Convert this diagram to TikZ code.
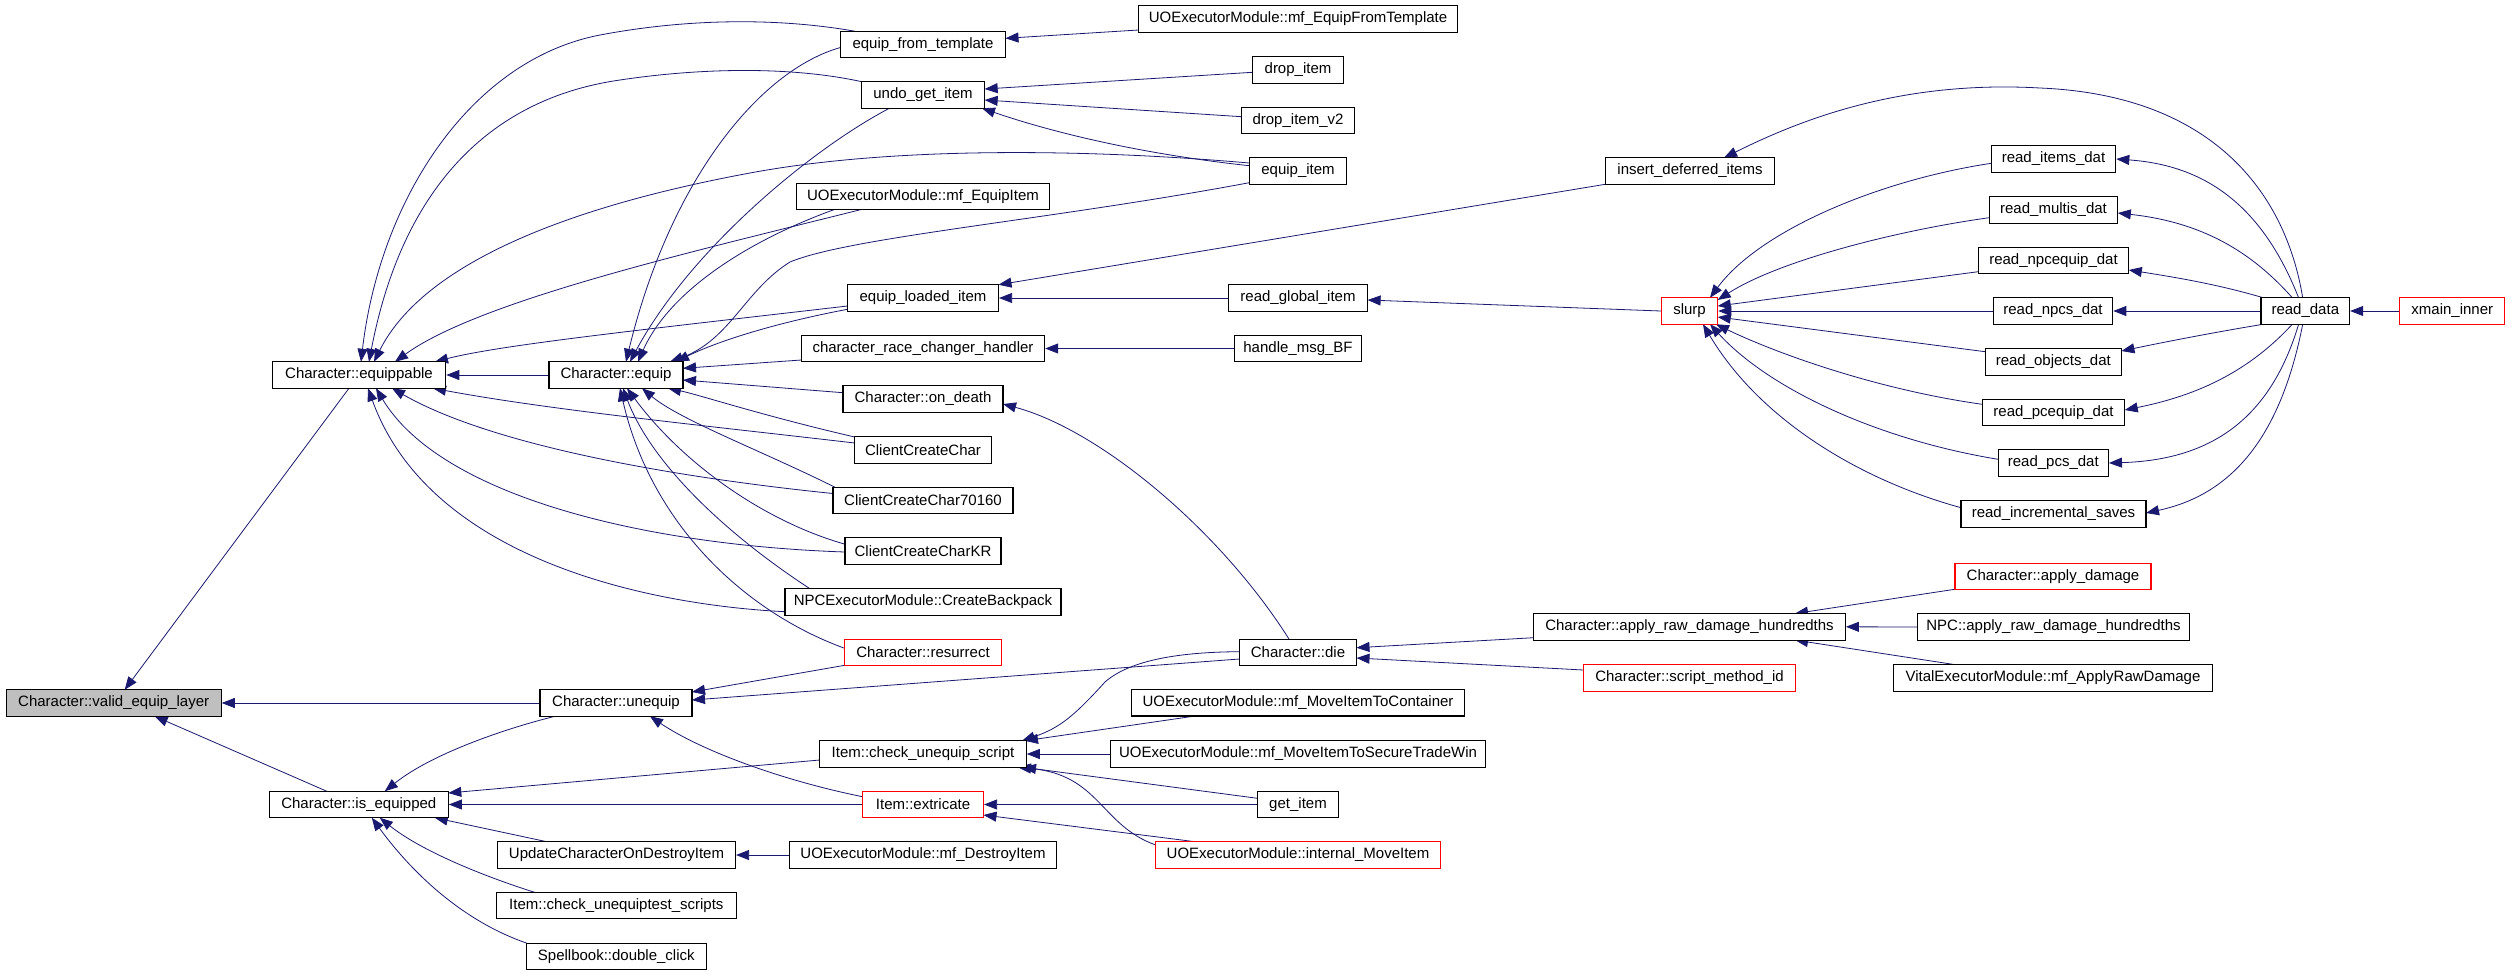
\documentclass[tikz,border=0pt]{standalone}
\usepackage{fontspec}
\setmainfont{Liberation Sans}
\usetikzlibrary{arrows.meta,calc}
\definecolor{edgeblue}{RGB}{25,25,112}
\definecolor{grayfill}{RGB}{191,191,191}
\pgfdeclarelayer{edges}
\pgfsetlayers{edges,main}
\tikzset{
  box/.style={draw=black, line width=1.1pt, minimum height=26.5pt, inner sep=0pt,
    font=\fontsize{15}{18}\selectfont, text=black, fill=white},
  redbox/.style={box, draw=red},
  call/.style={draw=edgeblue, line width=0.8pt, -{Triangle[length=13pt,width=10pt]}},
}
\begin{document}
\begin{tikzpicture}[x=1pt,y=-1pt]
\useasboundingbox (0,0) rectangle (2512,975);

% ---------- nodes ----------
\node[box, fill=grayfill, minimum width=215] (vel) at (113.7,703) {Character::valid\_equip\_layer};
\node[box, minimum width=173.5] (equippable) at (359,375) {Character::equippable};
\node[box, minimum width=134] (equip) at (616,375) {Character::equip};
\node[box, minimum width=152] (unequip) at (616,703) {Character::unequip};
\node[box, minimum width=179] (isequipped) at (358.8,804.5) {Character::is\_equipped};
\node[box, minimum width=238] (updchar) at (616.5,855) {UpdateCharacterOnDestroyItem};
\node[box, minimum width=240] (chkuts) at (616.3,905.6) {Item::check\_unequiptest\_scripts};
\node[box, minimum width=180] (spell) at (616.3,956.3) {Spellbook::double\_click};

\node[box, minimum width=165] (eft) at (923,44.5) {equip\_from\_template};
\node[box, minimum width=123.3] (ugi) at (923,95) {undo\_get\_item};
\node[box, minimum width=253] (mfei) at (923,196.3) {UOExecutorModule::mf\_EquipItem};
\node[box, minimum width=151] (eli) at (923,298) {equip\_loaded\_item};
\node[box, minimum width=243.3] (crch) at (923,348.5) {character\_race\_changer\_handler};
\node[box, minimum width=160] (ondeath) at (923,399) {Character::on\_death};
\node[box, minimum width=136.7] (ccc) at (923,450) {ClientCreateChar};
\node[box, minimum width=180] (ccc7) at (923,500.5) {ClientCreateChar70160};
\node[box, minimum width=156] (ccckr) at (923,551) {ClientCreateCharKR};
\node[box, minimum width=276] (cbp) at (923,602) {NPCExecutorModule::CreateBackpack};
\node[redbox, minimum width=156.7] (resurrect) at (923,652.3) {Character::resurrect};
\node[box, minimum width=206.5] (cus) at (923,754) {Item::check\_unequip\_script};
\node[redbox, minimum width=121] (extricate) at (923,804.5) {Item::extricate};
\node[box, minimum width=267.7] (mfdi) at (923,855) {UOExecutorModule::mf\_DestroyItem};

\node[box, minimum width=319] (mfeft) at (1298,19) {UOExecutorModule::mf\_EquipFromTemplate};
\node[box, minimum width=91] (dropitem) at (1298,70) {drop\_item};
\node[box, minimum width=113] (dropitemv2) at (1298,120.3) {drop\_item\_v2};
\node[box, minimum width=97.5] (equipitem) at (1298,171) {equip\_item};
\node[box, minimum width=139.2] (rgi) at (1298,298) {read\_global\_item};
\node[box, minimum width=127.7] (hmbf) at (1298,348.5) {handle\_msg\_BF};
\node[box, minimum width=117] (die) at (1298,652.3) {Character::die};
\node[box, minimum width=332.3] (mfmic) at (1298,702.7) {UOExecutorModule::mf\_MoveItemToContainer};
\node[box, minimum width=375] (mfmist) at (1298,754) {UOExecutorModule::mf\_MoveItemToSecureTradeWin};
\node[box, minimum width=81] (getitem) at (1298,804.5) {get\_item};
\node[redbox, minimum width=284.5] (imi) at (1298,855) {UOExecutorModule::internal\_MoveItem};

\node[box, minimum width=169] (idi) at (1690,171) {insert\_deferred\_items};
\node[redbox, minimum width=56.4] (slurp) at (1689.5,311) {slurp};
\node[box, minimum width=311.8] (ard) at (1689.5,626.8) {Character::apply\_raw\_damage\_hundredths};
\node[redbox, minimum width=212] (smi) at (1689.5,678) {Character::script\_method\_id};

\node[box, minimum width=124.5] (rid) at (2053.5,159) {read\_items\_dat};
\node[box, minimum width=128.6] (rmd) at (2053.5,210) {read\_multis\_dat};
\node[box, minimum width=150.6] (rned) at (2053.5,260.5) {read\_npcequip\_dat};
\node[box, minimum width=119.5] (rnd) at (2053,311) {read\_npcs\_dat};
\node[box, minimum width=136.3] (rod) at (2053.3,362) {read\_objects\_dat};
\node[box, minimum width=142.5] (rped) at (2053.5,412.3) {read\_pcequip\_dat};
\node[box, minimum width=110.2] (rpd) at (2053.3,463) {read\_pcs\_dat};
\node[box, minimum width=185] (ris) at (2053.5,514) {read\_incremental\_saves};
\node[redbox, minimum width=196] (applydmg) at (2053,576.5) {Character::apply\_damage};
\node[box, minimum width=272.3] (npcard) at (2053.5,627) {NPC::apply\_raw\_damage\_hundredths};
\node[box, minimum width=318.7] (vemard) at (2053,678) {VitalExecutorModule::mf\_ApplyRawDamage};

\node[box, minimum width=88.6] (readdata) at (2305.3,311) {read\_data};
\node[redbox, minimum width=105] (xmain) at (2452.3,311) {xmain\_inner};

\begin{pgfonlayer}{edges}
\fill[white] (0,0) rectangle (2512,975);
% into valid_equip_layer
\draw[call] ($(equippable)+(-10,13.25)$) -- ($(vel)+(11,-13.25)$);
\draw[call] (unequip.west) -- (vel.east);
\draw[call] ($(isequipped)+(-32,-13.25)$) -- ($(vel)+(41,13.25)$);

% into equippable
\draw[call] (equip.west) -- (equippable.east);
\draw[call] ($(eft)+(-68,-13.25)$) .. controls (780,18) and (690,18) .. (600,35) .. controls (470,60) and (380,200) .. ($(equippable)+(2,-13.25)$);
\draw[call] ($(ugi)+(-61,-13.25)$) .. controls (790,66) and (700,68) .. (620,80) .. controls (480,100) and (400,200) .. ($(equippable)+(10,-13.25)$);
\draw[call] ($(equipitem)+(-48.75,-8)$) .. controls (1100,150) and (900,145) .. (750,173) .. controls (550,210) and (420,270) .. ($(equippable)+(15,-13.25)$);
\draw[call] ($(mfei)+(-62,13.25)$) .. controls (700,250) and (480,300) .. ($(equippable)+(36,-13.25)$);
\draw[call] ($(eli)+(-75.5,8)$) .. controls (640,330) and (500,345) .. ($(equippable)+(76,-13.25)$);
\draw[call] ($(ccc)+(-68.35,-7)$) .. controls (700,425) and (550,410) .. ($(equippable)+(74,13.25)$);
\draw[call] ($(ccc7)+(-90,-7)$) .. controls (700,480) and (500,450) .. ($(equippable)+(33,13.25)$);
\draw[call] ($(ccckr)+(-78,1)$) .. controls (640,545) and (440,495) .. ($(equippable)+(17,13.25)$);
\draw[call] ($(cbp)+(-138,9.7)$) .. controls (650,605) and (430,560) .. ($(equippable)+(9,13.25)$);

% into equip
\draw[call] ($(eft)+(-82.5,3)$) .. controls (760,70) and (670,180) .. ($(equip)+(10,-13.25)$);
\draw[call] ($(ugi)+(-33.6,13.25)$) .. controls (810,150) and (690,250) .. ($(equip)+(14,-13.25)$);
\draw[call] ($(mfei)+(-88.7,13.25)$) .. controls (750,240) and (670,290) .. ($(equip)+(22,-13.25)$);
\draw[call] ($(equipitem)+(-48.75,11.7)$) .. controls (1050,220) and (850,237) .. (790,262) .. controls (745,290) and (730,340) .. ($(equip)+(54,-13.25)$);
\draw[call] ($(eli)+(-75.5,11.3)$) .. controls (780,322) and (720,340) .. ($(equip)+(60,-13.25)$);
\draw[call] ($(crch)+(-121.65,11.5)$) -- ($(equip)+(67,-6.7)$);
\draw[call] ($(ondeath)+(-80,-6.3)$) -- ($(equip)+(67,5)$);
\draw[call] ($(ccc)+(-68.35,-13)$) .. controls (760,415) and (700,395) .. ($(equip)+(52,13.25)$);
\draw[call] ($(ccc7)+(-88,-13.25)$) .. controls (760,450) and (680,420) .. ($(equip)+(26,13.25)$);
\draw[call] ($(ccckr)+(-77.7,-6.7)$) .. controls (760,520) and (680,460) .. ($(equip)+(11,13.25)$);
\draw[call] ($(cbp)+(-113,-13.25)$) .. controls (720,530) and (650,460) .. ($(equip)+(7,13.25)$);
\draw[call] ($(resurrect)+(-78.35,-4)$) .. controls (740,610) and (650,520) .. ($(equip)+(4,13.25)$);

% column 3 inputs
\draw[call] ($(mfeft)+(-159.5,11)$) -- ($(eft)+(82.5,-6.2)$);
\draw[call] ($(dropitem)+(-45.5,2.3)$) -- ($(ugi)+(61.65,-6)$);
\draw[call] ($(dropitemv2)+(-56.5,-3.6)$) -- ($(ugi)+(61.65,5)$);
\draw[call] ($(equipitem)+(-48.75,-5.3)$) .. controls (1150,155) and (1060,135) .. ($(ugi)+(59,13.25)$);
\draw[call] ($(idi)+(-84.5,13.25)$) -- ($(eli)+(75.5,-13.25)$);
\draw[call] (rgi.west) -- (eli.east);
\draw[call] (slurp.west) -- ($(rgi)+(69.6,2)$);
\draw[call] (hmbf.west) -- (crch.east);
\draw[call] ($(die)+(-9,-13.25)$) .. controls (1220,530) and (1100,430) .. ($(ondeath)+(80,5)$);

% read_data fan-out
\draw[call] ($(readdata)+(-2.6,-13.25)$) .. controls (2285,190) and (2210,95) .. (2040,88) .. controls (1900,80) and (1800,120) .. ($(idi)+(34,-13.25)$);
\draw[call] ($(readdata)+(-6.7,-13.25)$) .. controls (2260,200) and (2200,165) .. (rid.east);
\draw[call] ($(readdata)+(-13,-13.25)$) .. controls (2250,250) and (2200,222) .. ($(rmd)+(64.3,3)$);
\draw[call] ($(readdata)+(-42,-13.25)$) .. controls (2220,285) and (2180,278) .. ($(rned)+(75.3,9.5)$);
\draw[call] (readdata.west) -- (rnd.east);
\draw[call] ($(readdata)+(-42,13.25)$) .. controls (2210,333) and (2160,343) .. ($(rod)+(68.15,-11)$);
\draw[call] ($(readdata)+(-13,13.25)$) .. controls (2250,370) and (2200,395) .. ($(rped)+(71.25,-2.3)$);
\draw[call] ($(readdata)+(-6.7,13.25)$) .. controls (2270,420) and (2210,460) .. (rpd.east);
\draw[call] ($(readdata)+(-2.6,13.25)$) .. controls (2280,440) and (2230,495) .. ($(ris)+(92.5,-1)$);
\draw[call] (xmain.west) -- (readdata.east);

% into slurp
\draw[call] ($(rid)+(-62.25,4.3)$) .. controls (1880,180) and (1760,230) .. ($(slurp)+(20.5,-13.25)$);
\draw[call] ($(rmd)+(-64.3,7.7)$) .. controls (1900,230) and (1780,260) .. ($(slurp)+(28.2,-11)$);
\draw[call] ($(rned)+(-75.3,11.2)$) -- ($(slurp)+(28.2,-5)$);
\draw[call] (rnd.west) -- (slurp.east);
\draw[call] ($(rod)+(-68.15,-10.3)$) -- ($(slurp)+(28.2,6)$);
\draw[call] ($(rped)+(-71.25,-8)$) .. controls (1880,390) and (1780,355) .. ($(slurp)+(26.5,13.25)$);
\draw[call] ($(rpd)+(-55.1,-3.7)$) .. controls (1880,440) and (1770,390) .. ($(slurp)+(20.5,13.25)$);
\draw[call] ($(ris)+(-92.5,-6.3)$) .. controls (1860,480) and (1760,420) .. ($(slurp)+(13.5,13.25)$);

% into unequip / is_equipped
\draw[call] ($(resurrect)+(-78.35,13)$) -- ($(unequip)+(76,-11)$);
\draw[call] ($(die)+(-58.5,6.7)$) -- ($(unequip)+(76,-3)$);
\draw[call] ($(extricate)+(-60.5,-7.8)$) .. controls (780,780) and (700,750) .. ($(unequip)+(34,13.25)$);
\draw[call] ($(unequip)+(-61,13.25)$) .. controls (500,730) and (430,755) .. ($(isequipped)+(26,-13.25)$);

% into die
\draw[call] ($(ard)+(-155.9,10.9)$) -- ($(die)+(58.5,-4.6)$);
\draw[call] ($(smi)+(-106,-8)$) -- ($(die)+(58.5,5.7)$);

% into apply_raw_damage_hundredths
\draw[call] ($(applydmg)+(-98,12.75)$) -- ($(ard)+(105.5,-13.25)$);
\draw[call] (npcard.west) -- (ard.east);
\draw[call] ($(vemard)+(-97.3,-13.25)$) -- ($(ard)+(105.5,13.25)$);

% into check_unequip_script
\draw[call] ($(die)+(-58.5,-0.6)$) .. controls (1180,652) and (1130,660) .. (1105,682) .. controls (1075,715) and (1060,728) .. ($(cus)+(99,-13.25)$);
\draw[call] ($(mfmic)+(-102.5,13.25)$) -- ($(cus)+(102,-13.25)$);
\draw[call] (mfmist.west) -- (cus.east);
\draw[call] ($(getitem)+(-40.5,-6.2)$) -- ($(cus)+(100,13.25)$);
\draw[call] ($(imi)+(-142.25,-10)$) .. controls (1100,825) and (1100,775) .. ($(cus)+(95,13.25)$);

% into extricate
\draw[call] (getitem.west) -- (extricate.east);
\draw[call] ($(imi)+(-102.5,-13.25)$) -- ($(extricate)+(60.5,10.5)$);

% into is_equipped
\draw[call] ($(cus)+(-103.25,6)$) -- ($(isequipped)+(89.5,-11.5)$);
\draw[call] (extricate.west) -- (isequipped.east);
\draw[call] ($(updchar)+(-69.5,-13.25)$) -- ($(isequipped)+(76,13.25)$);
\draw[call] ($(chkuts)+(-81.6,-13.25)$) .. controls (480,875) and (420,850) .. ($(isequipped)+(21,13.25)$);
\draw[call] ($(spell)+(-89.8,-13.25)$) .. controls (460,920) and (410,870) .. ($(isequipped)+(13,13.25)$);

% into UpdateCharacterOnDestroyItem
\draw[call] (mfdi.west) -- (updchar.east);
\end{pgfonlayer}
\end{tikzpicture}
\end{document}
